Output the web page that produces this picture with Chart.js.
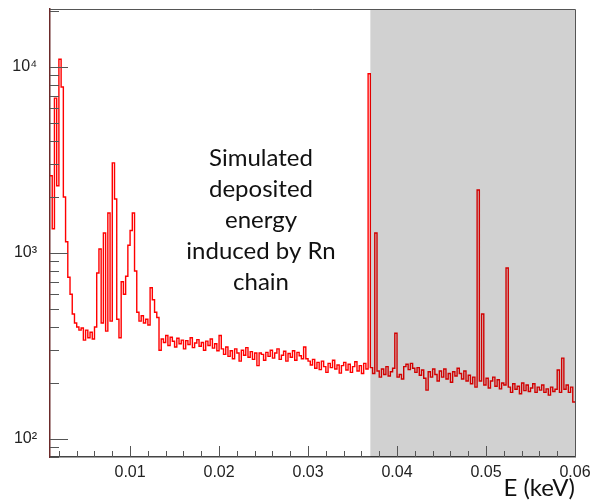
<!DOCTYPE html>
<html>
<head>
<meta charset="utf-8">
<script src="https://cdn.jsdelivr.net/npm/chart.js@4.4.1/dist/chart.umd.min.js"></script>
<style>
  html, body { margin: 0; padding: 0; background: #fff; }
</style>
</head>
<body>
<canvas id="chSpec" width="594" height="504"></canvas>
<script>
// histogram binning (keV)
var binStart = 0.001;
var binWidth = 0.00025;

// counts per bin
var counts = [
  2600, 1350, 6800, 2300, 11000, 7800, 2000, 1150, 740, 600,
  470, 420, 400, 385, 395, 340, 385, 350, 375, 345,
  400, 780, 1050, 420, 1280, 380, 1640, 430, 3050, 1950,
  440, 350, 700, 600, 750, 1100, 1320, 1640, 800, 480,
  430, 460, 420, 440, 410, 650, 560, 480, 450, 300,
  345, 330, 360, 318, 352, 335, 312, 348, 325, 340,
  305, 338, 322, 350, 310, 328, 342, 315, 330, 300,
  336, 318, 345, 308, 325, 298, 360, 305, 285, 312,
  278, 298, 270, 305, 290, 262, 300, 282, 310, 275,
  295, 268, 290, 248, 290, 285, 265, 292, 278, 300,
  272, 290, 305, 268, 282, 296, 262, 288, 275, 298,
  265, 292, 280, 270, 312, 270, 262, 250, 268, 240,
  258, 236, 262, 245, 228, 255, 242, 265, 238, 250,
  226, 248, 258, 235, 252, 228, 245, 260, 232, 248,
  225, 255, 238, 9200, 242, 225, 1280, 232, 215, 238,
  222, 245, 218, 230, 240, 370, 215, 222, 210, 245,
  252, 236, 255, 240, 228, 242, 220, 235, 212, 183,
  230, 215, 238, 222, 205, 232, 215, 238, 210, 225,
  202, 230, 218, 240, 225, 210, 232, 205, 220, 198,
  215, 190, 2180, 205, 470, 195, 212, 188, 205, 215,
  192, 208, 186, 200, 195, 830, 190, 178, 198, 185,
  192, 175, 200, 182, 195, 180, 188, 198, 178, 190,
  183, 195, 178, 186, 172, 190, 180, 185, 235, 178,
  272, 185, 195, 178, 190, 158
];

var xTicks = [0.01, 0.02, 0.03, 0.04, 0.05, 0.06];
var xTickLabels = ['0.01', '0.02', '0.03', '0.04', '0.05', '0.06'];
var yTicks = [100, 1000, 10000];
var yTickLabels = ['10\u00B2', '10\u00B3', '10\u2074'];
var shadeRange = [0.037, 0.06];
var noteLines = ['Simulated', 'deposited', 'energy', 'induced by Rn', 'chain'];

// step points: each bin value holds from its lower edge to the next
var points = counts.map(function (c, i) {
  return { x: binStart + i * binWidth, y: c };
});
points.push({ x: binStart + counts.length * binWidth, y: counts[counts.length - 1] });

var rootStyle = {
  id: 'rootStyle',
  afterDatasetsDraw: function (chart) {
    var ctx = chart.ctx, a = chart.chartArea, xs = chart.scales.x;
    var x0 = xs.getPixelForValue(shadeRange[0]);
    var x1 = xs.getPixelForValue(shadeRange[1]);
    ctx.save();
    ctx.fillStyle = 'rgba(0,0,0,0.18)';
    ctx.fillRect(x0, a.top, x1 - x0, a.bottom - a.top);
    ctx.restore();
  },
  afterDraw: function (chart) {
    var ctx = chart.ctx, a = chart.chartArea;
    var xs = chart.scales.x, ys = chart.scales.y;
    ctx.save();
    // frame top / right
    ctx.strokeStyle = '#555';
    ctx.lineWidth = 1;
    ctx.beginPath();
    ctx.moveTo(a.left, a.top + 0.5);
    ctx.lineTo(a.right + 0.5, a.top + 0.5);
    ctx.lineTo(a.right + 0.5, a.bottom);
    ctx.stroke();

    // ticks inside the frame
    ctx.strokeStyle = '#555';
    ctx.beginPath();
    var v, px, k, m;
    for (k = 1; k <= 30; k++) {
      v = k * 0.002;
      if (v < xs.min || v > xs.max + 1e-9) continue;
      px = Math.round(xs.getPixelForValue(v)) + 0.5;
      var len = (k % 5 === 0) ? 11 : 6;
      ctx.moveTo(px, a.bottom);
      ctx.lineTo(px, a.bottom - len);
    }
    for (k = 1; k <= 4; k++) {
      for (m = 1; m <= 9; m++) {
        v = m * Math.pow(10, k);
        if (v < ys.min || v > ys.max) continue;
        var py = Math.round(ys.getPixelForValue(v)) + 0.5;
        ctx.moveTo(a.left, py);
        ctx.lineTo(a.left + (m === 1 ? 18 : 9), py);
      }
    }
    ctx.stroke();

    // annotation
    ctx.fillStyle = '#111';
    ctx.font = '24px Lato';
    ctx.textAlign = 'center';
    ctx.textBaseline = 'middle';
    noteLines.forEach(function (t, i) {
      ctx.fillText(t, 261, 158 + i * 31);
    });
    ctx.restore();
  }
};

new Chart(document.getElementById('chSpec'), {
  type: 'line',
  data: {
    datasets: [{
      data: points,
      borderColor: '#ff0000',
      borderWidth: 1.4,
      pointRadius: 0,
      stepped: true,
      fill: false
    }]
  },
  options: {
    responsive: false,
    animation: false,
    devicePixelRatio: 1,
    layout: { padding: { left: 0, right: 19, top: 9, bottom: 0 } },
    plugins: { legend: { display: false }, tooltip: { enabled: false } },
    scales: {
      x: {
        type: 'linear',
        min: 0.001,
        max: 0.06,
        afterBuildTicks: function (s) { s.ticks = xTicks.map(function (v) { return { value: v }; }); },
        afterFit: function (s) { s.height = 47; s.paddingLeft = 0; s.paddingRight = 0; },
        grid: { display: false, drawTicks: false },
        border: { display: true, color: '#444', width: 1.5 },
        ticks: {
          autoSkip: false, maxRotation: 0, padding: 6,
          color: '#222', font: { family: 'Liberation Sans', size: 16 },
          callback: function (v, i) { return xTickLabels[i]; }
        },
        title: {
          display: true, text: 'E (keV)', align: 'end',
          color: '#111', font: { family: 'Lato', size: 24 },
          padding: { top: 0, bottom: 1 }
        }
      },
      y: {
        type: 'logarithmic',
        min: 80,
        max: 20500,
        afterBuildTicks: function (s) { s.ticks = yTicks.map(function (v) { return { value: v }; }); },
        afterFit: function (s) { s.width = 50; s.paddingTop = 0; s.paddingBottom = 0; },
        grid: { display: false, drawTicks: false },
        border: { display: true, color: '#6b2a2a', width: 1.5 },
        ticks: {
          autoSkip: false, padding: 13,
          color: '#222', font: { family: 'Liberation Sans', size: 16 },
          callback: function (v, i) { return yTickLabels[i]; }
        }
      }
    }
  },
  plugins: [rootStyle]
});
</script>
</body>
</html>
